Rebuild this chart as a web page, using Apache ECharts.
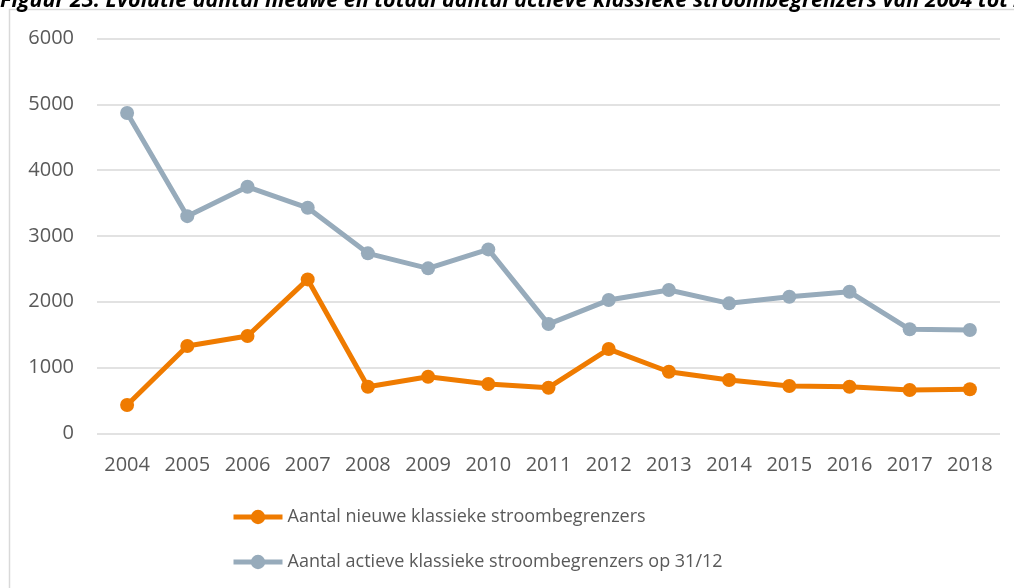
<!DOCTYPE html>
<html>
<head>
<meta charset="utf-8">
<script src="https://cdn.jsdelivr.net/npm/echarts@6/dist/echarts.min.js"></script>
<style>
	html, body { margin: 0; padding: 0; background: #fff; }
	#main { width: 1014px; height: 588px; }
</style>
</head>
<body>
<div id="main"></div>
<script>
var years = ['2004', '2005', '2006', '2007', '2008', '2009', '2010', '2011', '2012', '2013', '2014', '2015', '2016', '2017', '2018'];
var nieuwe = [430, 1327, 1479, 2340, 708, 860, 749, 693, 1281, 936, 810, 719, 708, 658, 669];
var actieve = [4870, 3302, 3748, 3429, 2736, 2508, 2796, 1661, 2026, 2178, 1976, 2076, 2152, 1581, 1570];
var yTicks = [0, 1000, 2000, 3000, 4000, 5000, 6000];

var titleText = 'Figuur 23: Evolutie aantal nieuwe en totaal aantal actieve klassieke stroombegrenzers van 2004 tot 2018';
var txtColor = '#595959';
var fontName = '"Open Sans", sans-serif';

var chart = echarts.init(document.getElementById('main'), null, { renderer: 'canvas' });
var option = {
	animation: false,
	graphic: [
		{
			type: 'rect',
			shape: { x: 9.5, y: 9.5, width: 1100, height: 1000 },
			style: { fill: 'none', stroke: '#d9d9d9', lineWidth: 1.5 },
			silent: true
		},
		{
			type: 'text',
			x: 0,
			y: 12,
			style: {
				text: titleText,
				fill: '#000',
				font: 'italic bold 21.5px "Open Sans", sans-serif',
				verticalAlign: 'bottom'
			},
			silent: true
		}
	],
	grid: {
		left: 97,
		right: 14,
		top: 38.7,
		bottom: 154.7
	},
	legend: {
		orient: 'vertical',
		left: 226,
		top: 503,
		itemWidth: 49,
		itemHeight: 18,
		itemGap: 27,
		lineStyle: { width: 5 },
		textStyle: { color: txtColor, fontSize: 18, fontFamily: fontName },
		data: ['Aantal nieuwe klassieke stroombegrenzers', 'Aantal actieve klassieke stroombegrenzers op 31/12']
	},
	xAxis: {
		type: 'category',
		data: years,
		boundaryGap: true,
		axisLine: { show: false },
		axisTick: { show: false },
		axisLabel: { color: txtColor, fontSize: 20, fontFamily: fontName, margin: 22 }
	},
	yAxis: {
		type: 'value',
		min: yTicks[0],
		max: yTicks[yTicks.length - 1],
		interval: 1000,
		axisLine: { show: false },
		axisTick: { show: false },
		axisLabel: {
			color: txtColor, fontSize: 20, fontFamily: fontName, margin: 23,
			formatter: function (v) { return String(v); }
		},
		splitLine: { lineStyle: { color: '#d9d9d9', width: 1.5 } }
	},
	series: [
		{
			name: 'Aantal nieuwe klassieke stroombegrenzers',
			type: 'line',
			data: nieuwe,
			symbol: 'circle',
			symbolSize: 14,
			color: '#ef7b00',
			lineStyle: { width: 5 },
			z: 3
		},
		{
			name: 'Aantal actieve klassieke stroombegrenzers op 31/12',
			type: 'line',
			data: actieve,
			symbol: 'circle',
			symbolSize: 14,
			color: '#97abbb',
			lineStyle: { width: 5 },
			z: 2
		}
	]
};
chart.setOption(option);
</script>
</body>
</html>
